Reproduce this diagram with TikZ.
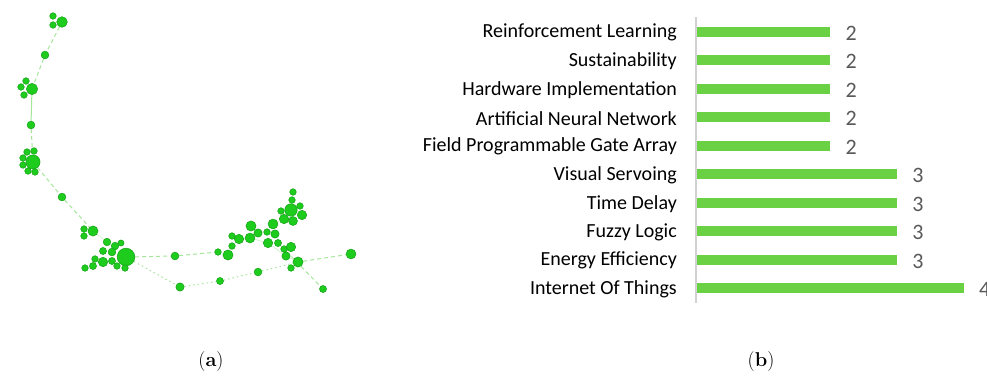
\documentclass[tikz,border=0pt]{standalone}
\usepackage{fontspec}
\newfontfamily\calib{Carlito}
\usetikzlibrary{backgrounds}
\definecolor{nodegreen}{RGB}{30,204,30}
\definecolor{noderim}{RGB}{22,160,22}
\definecolor{edgegreen}{RGB}{165,230,155}
\definecolor{bargreen}{RGB}{106,208,68}
\definecolor{numgray}{RGB}{89,89,89}
\definecolor{axisgray}{RGB}{210,210,210}
\tikzset{
  nd/.style={circle,fill=nodegreen,draw=noderim,line width=0.5pt,inner sep=0pt,minimum size={1.18*#1}},
  nd/.default=5.6pt,
  edash/.style={draw=edgegreen,line width=1pt,dash pattern=on 4pt off 3pt},
  edot/.style={draw=edgegreen,line width=1pt,dash pattern=on 1.5pt off 3pt},
  esolid/.style={draw=edgegreen,line width=1pt},
  efaint/.style={draw=edgegreen!60,line width=0.6pt},
  lbltxt/.style={font=\calib\fontsize{20}{22}\selectfont,anchor=east,inner sep=0pt,text=black},
  numtxt/.style={font=\calib\fontsize{22}{24}\selectfont,anchor=west,inner sep=0pt,text=numgray},
  captxt/.style={font=\fontsize{20}{22}\selectfont,inner sep=0pt}
}
\begin{document}
\begin{tikzpicture}[x=1pt,y=-1pt]
\useasboundingbox (0,0) rectangle (987,378);
% ---------------- network (a) ----------------
\node[nd=9pt] (t1) at (62,22) {};
\node[nd] (t2) at (53,16) {};
\node[nd] (t3) at (53,25) {};
\node[nd=6.6pt] (m1) at (45,55) {};
\node[nd=9.6pt] (c2) at (32,89) {};
\node[nd] (c2a) at (26,81) {};
\node[nd] (c2b) at (21,87) {};
\node[nd] (c2c) at (24,95) {};
\node[nd=6.6pt] (m2) at (31,125) {};
\node[nd=12pt] (c3) at (33,162) {};
\node[nd] (c3a) at (27,152) {};
\node[nd] (c3b) at (34,151) {};
\node[nd] (c3c) at (23,158) {};
\node[nd] (c3d) at (23,165) {};
\node[nd] (c3e) at (28,171) {};
\node[nd] (c3f) at (35,172) {};
\node[nd=6.6pt] (m3) at (62,197) {};
% cluster 4
\node[nd=15pt] (c4) at (126,257) {};
\node[nd=8.6pt] (c4m) at (93,231) {};
\node[nd] (c4a) at (84,229) {};
\node[nd] (c4b) at (84,236) {};
\node[nd=6.4pt] (c4c) at (107,242) {};
\node[nd=6.4pt] (c4d) at (115,246) {};
\node[nd=5.2pt] (c4e) at (121,243) {};
\node[nd=6pt] (c4f) at (103,251) {};
\node[nd=6.6pt] (c4g) at (112,252) {};
\node[nd=5.6pt] (c4h) at (95,259) {};
\node[nd=8pt] (c4i) at (103,262) {};
\node[nd=6pt] (c4j) at (112,261) {};
\node[nd] (c4k) at (85,268) {};
\node[nd=6pt] (c4l) at (93,266) {};
\node[nd] (c4m2) at (117,266) {};
\node[nd] (c4n) at (125,268) {};
% middle
\node[nd=6.6pt] (p1) at (175,256) {};
\node[nd=7pt] (q1) at (180,287) {};
\node[nd=6pt] (q2) at (220,281) {};
\node[nd=6.6pt] (q3) at (258,272) {};
% cluster 5
\node[nd] (r1) at (218,252) {};
\node[nd=8.6pt] (r2) at (228,255) {};
\node[nd] (r3) at (232,236) {};
\node[nd] (r4) at (232,246) {};
\node[nd=8pt] (r5) at (239,239) {};
\node[nd=8.6pt] (r6) at (251,226) {};
\node[nd=8.4pt] (r7) at (250,238) {};
\node[nd=7pt] (r8) at (258,233) {};
\node[nd] (r9) at (267,232) {};
\node[nd=8.4pt] (r10) at (273,224) {};
\node[nd=7pt] (r11) at (275,234) {};
\node[nd=8pt] (r12) at (268,243) {};
\node[nd=6pt] (r13) at (278,243) {};
\node[nd] (r14) at (284,249) {};
\node[nd=8pt] (r15) at (291,247) {};
\node[nd=7pt] (r16) at (286,256) {};
\node[nd=8.6pt] (r17) at (298,262) {};
\node[nd] (r18) at (291,268) {};
% upper cluster
\node[nd] (u1) at (293,192) {};
\node[nd] (u2) at (292,200) {};
\node[nd] (u3) at (281,211) {};
\node[nd=10.6pt] (u4) at (291,210) {};
\node[nd] (u5) at (300,206) {};
\node[nd=8pt] (u6) at (302,215) {};
\node[nd=8pt] (u7) at (284,219) {};
\node[nd=7.6pt] (u8) at (293,221) {};
% outliers
\node[nd=8.4pt] (s1) at (351,254) {};
\node[nd=6pt] (s2) at (323,289) {};
\begin{scope}[on background layer]
\draw[edash] (t1) -- (m1);
\draw[edash] (m1) -- (c2);
\draw[esolid] (c2) -- (m2);
\draw[edash] (m2) -- (c3);
\draw[edash] (c3) -- (m3);
\draw[edash] (m3) -- (c4m);
\draw[efaint] (c4m) -- (c4);
\draw[edash] (c4) -- (p1);
\draw[edash] (p1) -- (r1);
\draw[efaint] (r1) -- (r2);
\draw[edot] (c4) -- (q1);
\draw[edot] (q1) -- (q2);
\draw[edot] (q2) -- (q3);
\draw[edot] (q3) -- (r17);
\draw[edash] (r17) -- (s1);
\draw[edash] (r14) -- (s2);
\draw[efaint] (r2) -- (r4);
\draw[efaint] (r5) -- (r7);
\draw[efaint] (r7) -- (r12);
\draw[efaint] (r11) -- (r16);
\draw[efaint] (r12) -- (r16);
\draw[efaint] (r10) -- (u7);
\draw[efaint] (r16) -- (r17);
\end{scope}
% ---------------- bar chart (b) ----------------
\coordinate (ax0) at (696,17);
\coordinate (ax1) at (696,303);
\draw[axisgray,line width=2pt] (ax0) -- (ax1);
\foreach \lab/\val/\y in {
  Reinforcement Learning/2/31.7,
  Sustainability/2/60.2,
  Hardware Implementation/2/88.7,
  Artificial Neural Network/2/117.2,
  Field Programmable Gate Array/2/145.7,
  Visual Servoing/3/174.2,
  Time Delay/3/202.7,
  Fuzzy Logic/3/231.2,
  Energy Efficiency/3/259.7,
  Internet Of Things/4/288.2}{
  \node[lbltxt] (L\val\y) at (677,\y+1) {\lab};
  \fill[bargreen] (697,\y-5) rectangle ({697+66.7*\val},\y+5);
  \node[numtxt] (N\val\y) at ({697+66.7*\val+15},\y+1.5) {\val};
}
% ---------------- captions ----------------
\node[captxt] (capa) at (211,362) {(\textbf{a})};
\node[captxt] (capb) at (761,362) {(\textbf{b})};
\end{tikzpicture}
\end{document}
